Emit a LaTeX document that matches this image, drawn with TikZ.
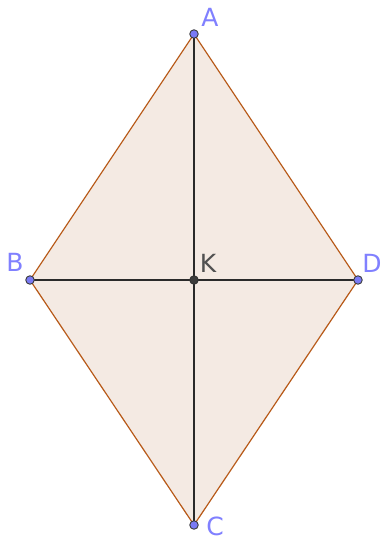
\documentclass[tikz,border=0pt]{standalone}
\usepackage{fontspec}
\setmainfont{DejaVu Sans}
\definecolor{lblblue}{RGB}{128,128,255}
\definecolor{ptfill}{RGB}{122,122,245}
\definecolor{edgebrown}{RGB}{184,90,25}
\definecolor{rhfill}{RGB}{244,234,227}
\definecolor{darkg}{RGB}{60,60,60}
\tikzset{
  lbl/.style={inner sep=0pt, anchor=center, text=lblblue, font=\fontsize{25}{25}\selectfont},
  klbl/.style={inner sep=0pt, anchor=center, text=darkg!90, font=\fontsize{25}{25}\selectfont},
  edge/.style={draw=edgebrown, line width=1.2pt},
  diag/.style={draw=darkg!70!black, line width=1.1pt},
  pt/.style={circle, fill=ptfill, draw=darkg, line width=0.9pt, inner sep=0pt, minimum size=8.5pt},
  kpt/.style={circle, fill=darkg, draw=black!80, line width=0.9pt, inner sep=0pt, minimum size=8.5pt}
}
\begin{document}
\begin{tikzpicture}[x=1pt,y=-1pt]
\useasboundingbox[fill=white] (0,0) rectangle (380,537);
\coordinate (A) at (194,34);
\coordinate (B) at (30,280);
\coordinate (C) at (194,525);
\coordinate (D) at (358,280);
\coordinate (K) at (194,280);
\fill[rhfill] (A) -- (B) -- (C) -- (D) -- cycle;
\draw[diag] (A) -- (C);
\draw[diag] (B) -- (D);
\draw[edge, line join=round] (A) -- (B) -- (C) -- (D) -- cycle;
\node[pt] (pA) at (A) {};
\node[pt] (pB) at (B) {};
\node[pt] (pC) at (C) {};
\node[pt] (pD) at (D) {};
\node[kpt] (pK) at (K) {};
\node[lbl] (lA) at (210,17) {A};
\node[lbl] (lB) at (15,262) {B};
\node[lbl] (lC) at (215,526) {C};
\node[lbl] (lD) at (372,263) {D};
\node[klbl] (lK) at (208,263) {K};
\end{tikzpicture}
\end{document}
